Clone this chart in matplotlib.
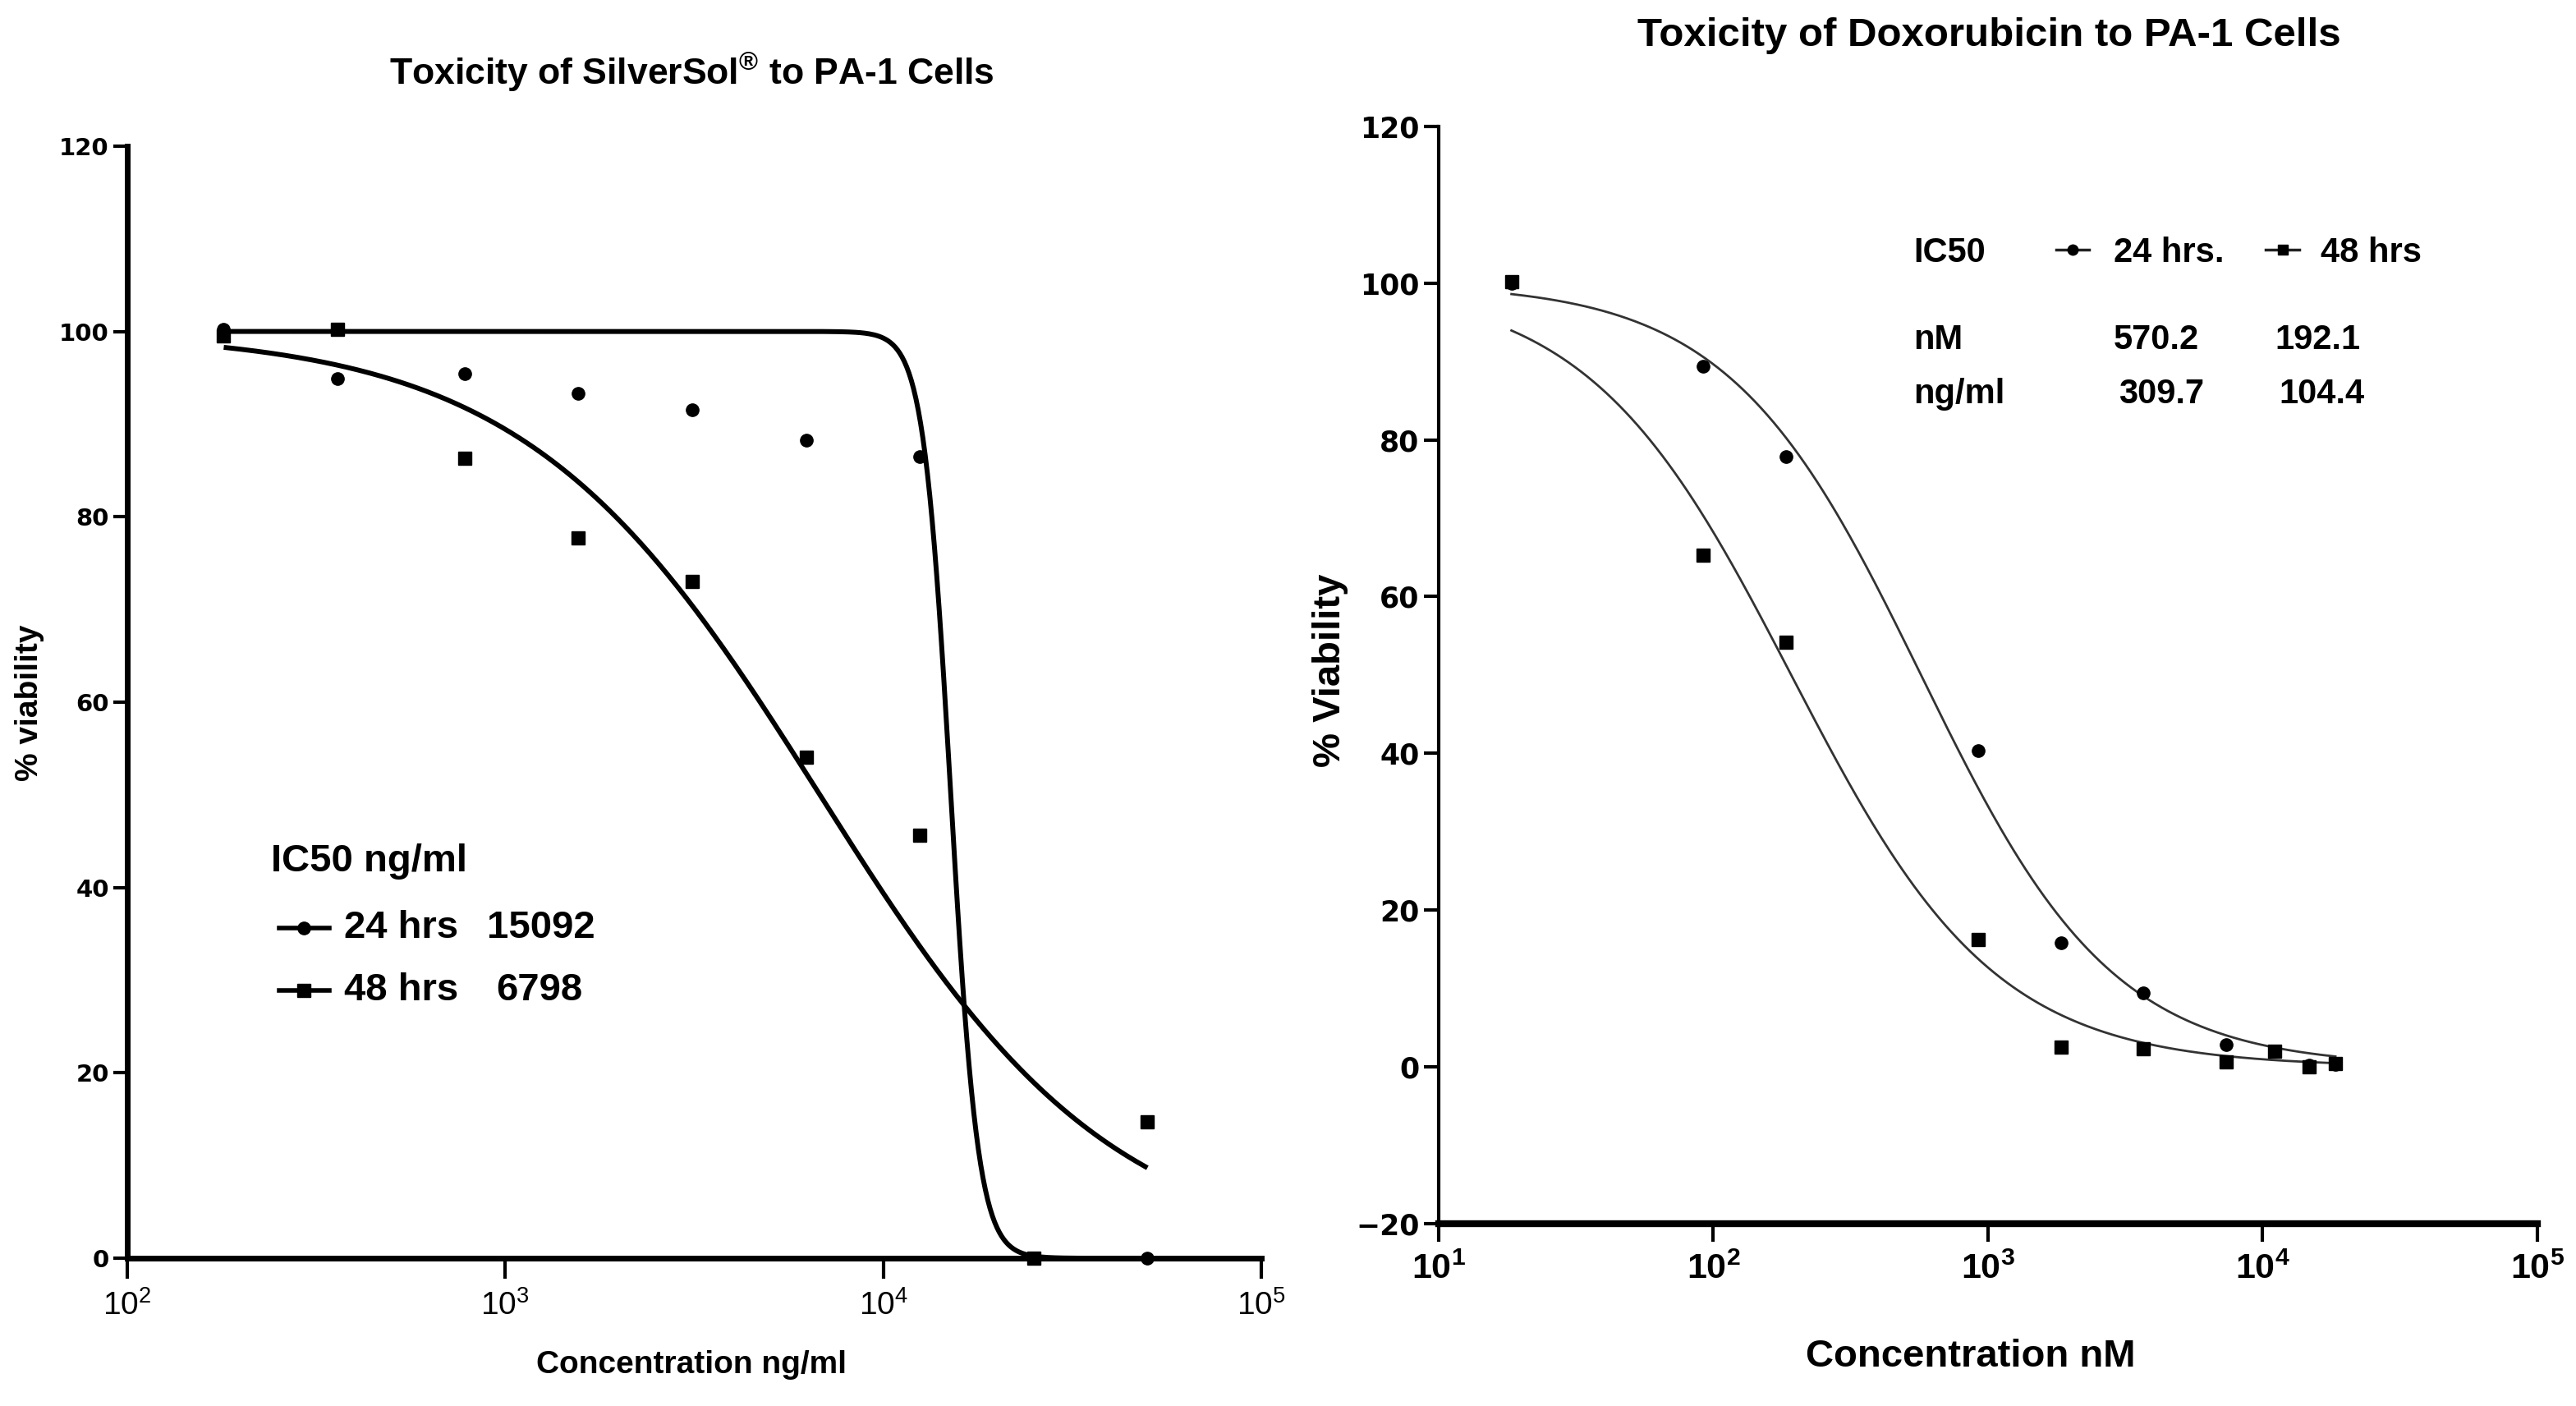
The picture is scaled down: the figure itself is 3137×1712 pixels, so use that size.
import numpy as np
import matplotlib
matplotlib.use('Agg')
import matplotlib.pyplot as plt
from matplotlib.ticker import FixedLocator, NullLocator, FuncFormatter

narrow = ['Liberation Sans Narrow', 'Liberation Sans', 'DejaVu Sans']
plt.rcParams['font.family'] = narrow
plt.rcParams['mathtext.default'] = 'regular'

# SilverSol data (ng/ml)
ag_conc = [180, 360, 780, 1560, 3125, 6250, 12500, 25000, 50000]
ag_24h = [100.2, 94.9, 95.4, 93.3, 91.5, 88.3, 86.5, 0.0, 0.0]
ag_48h = [99.5, 100.2, 86.3, 77.7, 73.0, 54.1, 45.6, 0.0, 14.7]
# fitted curve params: top, bottom, ic50, hill slope
ag_fit_24h = [100, 0, 15092, 12.0]
ag_fit_48h = [100, 0, 6798, 1.115]

# Doxorubicin data (nM)
dox_conc = [18.4, 92, 184, 920, 1840, 3680, 7360, 11040, 14720, 18400]
dox_24h = [100.0, 89.4, 77.9, 40.4, 15.8, 9.4, 2.8, 2.0, 0.2, 0.3]
dox_48h = [100.2, 65.3, 54.2, 16.2, 2.5, 2.3, 0.6, 2.0, 0.0, 0.4]
dox_fit_24h = [100, 0, 570.2, 1.24]
dox_fit_48h = [100, 0, 192.1, 1.17]


def hill(x, p):
    top, bottom, ic50, h = p
    return bottom + (top - bottom) / (1 + (x / ic50) ** h)


def curve(conc, p):
    xs = np.logspace(np.log10(conc[0]), np.log10(conc[-1]), 400)
    return xs, hill(xs, p)


def pow10(v, pos):
    return r'$10^{%d}$' % int(round(np.log10(v)))


fig = plt.figure(figsize=(31.37, 17.12), dpi=100)

###########################################################################
# Left panel - SilverSol
###########################################################################
ax1 = fig.add_axes([0.0494, 0.1051, 0.4402, 0.7910])
x, y = curve(ag_conc, ag_fit_24h)
ax1.plot(x, y, color='k', lw=4.3, solid_capstyle='butt')
x, y = curve(ag_conc, ag_fit_48h)
ax1.plot(x, y, color='k', lw=4.3, solid_capstyle='butt')
ax1.plot(ag_conc, ag_24h, 'o', color='k', ms=11, ls='none', clip_on=False)
ax1.plot(ag_conc, ag_48h, 's', color='k', ms=11, ls='none', clip_on=False)

ax1.set_xscale('log')
ax1.set_xlim(1e2, 1e5)
ax1.set_ylim(0, 120)
ax1.xaxis.set_major_locator(FixedLocator([1e2, 1e3, 1e4, 1e5]))
ax1.xaxis.set_minor_locator(NullLocator())
ax1.xaxis.set_major_formatter(FuncFormatter(pow10))
ax1.set_yticks([0, 20, 40, 60, 80, 100, 120])
for s in ['top', 'right']:
    ax1.spines[s].set_visible(False)
for s in ['left', 'bottom']:
    ax1.spines[s].set_linewidth(5)
ax1.tick_params(axis='y', length=12, width=3, pad=4)
ax1.tick_params(axis='x', length=18, width=3, pad=10, labelsize=28)
for lab in ax1.get_yticklabels():
    lab.set_fontfamily('DejaVu Sans')
    lab.set_fontweight('bold')
    lab.set_fontsize(21)

fig.text(842 / 3137, 1 - 88 / 1712, 'Toxicity of SilverSol$^{®}$ to PA-1 Cells',
         ha='center', va='center', fontsize=32, fontweight='bold')
fig.text(842 / 3137, 1 - 1662 / 1712, 'Concentration ng/ml',
         ha='center', va='center', fontsize=28, fontweight='bold')
fig.text(36 / 3137, 1 - 856 / 1712, '% viability', rotation=90,
         ha='center', va='center', fontsize=28, fontweight='bold')

# legend block
fs_leg = 34
ax1.text(0.127, 0.357, 'IC50 ng/ml', transform=ax1.transAxes, fontsize=fs_leg,
         fontweight='bold', va='center')
for yy, mk, lab, val, vx in [(0.297, 'o', '24 hrs', '15092', 0.317),
                             (0.241, 's', '48 hrs', '6798', 0.325)]:
    ax1.plot([0.134, 0.178], [yy, yy], color='k', lw=4, transform=ax1.transAxes)
    ax1.plot([0.156], [yy], color='k', marker=mk, ms=11, transform=ax1.transAxes)
    ax1.text(0.191, yy, lab, transform=ax1.transAxes, fontsize=fs_leg,
             fontweight='bold', va='center')
    ax1.text(vx, yy, val, transform=ax1.transAxes, fontsize=fs_leg,
             fontweight='bold', va='center')

###########################################################################
# Right panel - Doxorubicin
###########################################################################
ax2 = fig.add_axes([0.5585, 0.1297, 0.4265, 0.7804])
x, y = curve(dox_conc, dox_fit_24h)
ax2.plot(x, y, color='#333333', lw=2)
x, y = curve(dox_conc, dox_fit_48h)
ax2.plot(x, y, color='#333333', lw=2)
ax2.plot(dox_conc, dox_24h, 'o', color='k', ms=11, ls='none', clip_on=False)
ax2.plot(dox_conc, dox_48h, 's', color='k', ms=11, ls='none', clip_on=False)

ax2.set_xscale('log')
ax2.set_xlim(1e1, 1e5)
ax2.set_ylim(-20, 120)
ax2.xaxis.set_major_locator(FixedLocator([1e1, 1e2, 1e3, 1e4, 1e5]))
ax2.xaxis.set_minor_locator(NullLocator())
ax2.xaxis.set_major_formatter(FuncFormatter(pow10))
ax2.set_yticks([-20, 0, 20, 40, 60, 80, 100, 120])
for s in ['top', 'right']:
    ax2.spines[s].set_visible(False)
ax2.spines['left'].set_linewidth(3)
ax2.spines['bottom'].set_linewidth(6)
ax2.tick_params(axis='y', length=13, width=3, pad=4)
ax2.tick_params(axis='x', length=16, width=3, pad=10, labelsize=31)
for lab in ax2.get_xticklabels():
    lab.set_fontweight('bold')
for lab in ax2.get_yticklabels():
    lab.set_fontfamily('DejaVu Sans')
    lab.set_fontweight('bold')
    lab.set_fontsize(25)

fig.text(2422 / 3137, 1 - 44 / 1712, 'Toxicity of Doxorubicin to PA-1 Cells',
         ha='center', va='center', fontsize=35.5, fontweight='bold')
fig.text(2400 / 3137, 1 - 1652 / 1712, 'Concentration nM',
         ha='center', va='center', fontsize=34, fontweight='bold')
fig.text(1620 / 3137, 1 - 816 / 1712, '% Viability', rotation=90,
         ha='center', va='center', fontsize=34, fontweight='bold')

fs_r = 30
ax2.text(0.432, 0.885, 'IC50', transform=ax2.transAxes, fontsize=fs_r,
         fontweight='bold', va='center')
for x0, x1, mk, lab, tx in [(0.562, 0.592, 'o', '24 hrs.', 0.614),
                            (0.753, 0.783, 's', '48 hrs', 0.803)]:
    ax2.plot([x0, x1], [0.888, 0.888], color='#222222', lw=2.5, transform=ax2.transAxes)
    ax2.plot([(x0 + x1) / 2], [0.888], color='k', marker=mk, ms=9, transform=ax2.transAxes)
    ax2.text(tx, 0.885, lab, transform=ax2.transAxes, fontsize=fs_r,
             fontweight='bold', va='center')
ax2.text(0.432, 0.805, 'nM', transform=ax2.transAxes, fontsize=fs_r,
         fontweight='bold', va='center')
ax2.text(0.614, 0.805, '570.2', transform=ax2.transAxes, fontsize=fs_r,
         fontweight='bold', va='center')
ax2.text(0.761, 0.805, '192.1', transform=ax2.transAxes, fontsize=fs_r,
         fontweight='bold', va='center')
ax2.text(0.432, 0.756, 'ng/ml', transform=ax2.transAxes, fontsize=fs_r,
         fontweight='bold', va='center')
ax2.text(0.619, 0.756, '309.7', transform=ax2.transAxes, fontsize=fs_r,
         fontweight='bold', va='center')
ax2.text(0.765, 0.756, '104.4', transform=ax2.transAxes, fontsize=fs_r,
         fontweight='bold', va='center')

fig.savefig('out.png', dpi=100)
